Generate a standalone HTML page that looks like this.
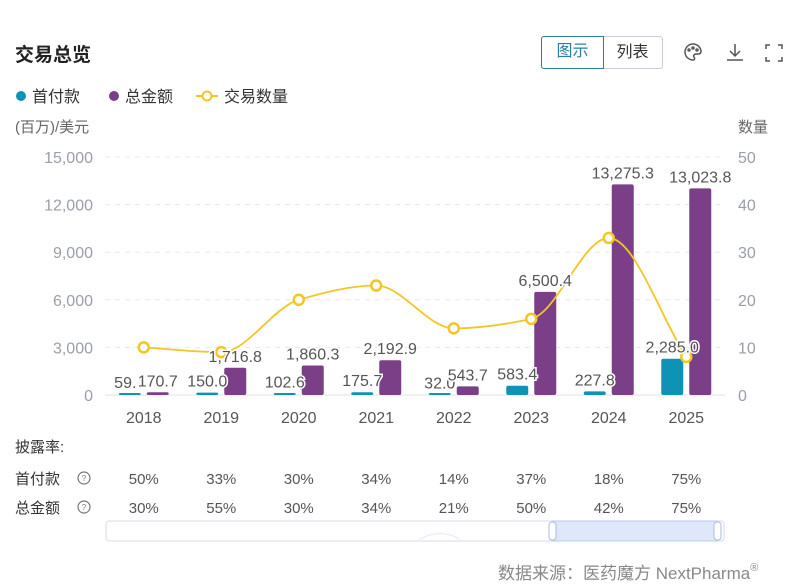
<!DOCTYPE html>
<html><head><meta charset="utf-8">
<style>
body{margin:0;width:794px;height:588px;background:#fff;font-family:"Liberation Sans","Noto Sans CJK SC",sans-serif;position:relative;overflow:hidden}
.abs{position:absolute}
</style></head><body>
<div class="abs" style="left:15px;top:40px;font-size:19px;font-weight:bold;color:#222">交易总览</div>
<div class="abs" style="left:541px;top:36px;width:122px;height:33px;border:1px solid #ccd;border-radius:3px;box-sizing:border-box;display:flex;font-size:16px">
 <div style="width:61px;border:1px solid #2a7fa0;color:#2a7fa0;text-align:center;line-height:30px;margin:-1px;border-radius:3px 0 0 3px">图示</div>
 <div style="flex:1;text-align:center;line-height:31px;color:#333">列表</div>
</div>
<svg class="abs" style="left:680px;top:40px" width="110" height="26">
 <g fill="none" stroke="#555" stroke-width="1.5"><path d="M13 4a8 8 0 1 0 0 16c2 0 2-2 1-3s0-3 2-3h3a3 3 0 0 0 2-3 8 8 0 0 0-8-7z"/><circle cx="9" cy="10" r="1"/><circle cx="13" cy="8" r="1"/><circle cx="17" cy="10" r="1"/></g>
 <g fill="none" stroke="#555" stroke-width="1.5"><path d="M55 4v12M50 11l5 5 5-5M47 20h16"/></g>
 <g fill="none" stroke="#555" stroke-width="1.5"><path d="M86 9V5h4M98 5h4v4M102 17v4h-4M90 21h-4v-4"/></g>
</svg>
<svg class="abs" style="left:0;top:0" width="794" height="588" id="chart" font-family="Liberation Sans, Noto Sans CJK SC, sans-serif">
 <g>
  <circle cx="21" cy="96" r="5" fill="#0e93b5"/>
  <text x="32" y="102" font-size="16" fill="#333">首付款</text>
  <circle cx="114" cy="96" r="5" fill="#7b3f87"/>
  <text x="125" y="102" font-size="16" fill="#333">总金额</text>
  <line x1="196" y1="96" x2="218" y2="96" stroke="#f3c623" stroke-width="2"/>
  <circle cx="207" cy="96" r="4.5" fill="#fff" stroke="#f3c623" stroke-width="2"/>
  <text x="224" y="102" font-size="16" fill="#333">交易数量</text>
 </g>
 <text x="15" y="132" font-size="15" fill="#666">(百万)/美元</text>
 <text x="738" y="132" font-size="15" fill="#666">数量</text>
 <g id="grid"></g><g id="bars"></g><g id="line"></g><g id="labels"></g>
 <text x="15" y="452" font-size="15" fill="#333">披露率:</text>
 <text x="15" y="484" font-size="15" fill="#333">首付款</text>
 <text x="15" y="513" font-size="15" fill="#333">总金额</text>
 <g fill="none" stroke="#777" stroke-width="1.2">
  <circle cx="84" cy="478" r="6"/>
  <circle cx="84" cy="507" r="6"/>
 </g>
 <text x="84" y="481" font-size="8" fill="#777" text-anchor="middle">?</text>
 <text x="84" y="510" font-size="8" fill="#777" text-anchor="middle">?</text>
 <g id="rates"></g>
 <g>
  <rect x="106" y="521" width="618" height="20" rx="3" fill="#fff" stroke="#d6dce8"/>
  <path d="M420 539 Q440 528 460 539" fill="none" stroke="#e4e8f2"/>
  <rect x="553" y="521" width="164" height="20" fill="#dfe8fb" stroke="#b8c8ef"/>
  <rect x="549" y="522" width="7" height="18" rx="3" fill="#fff" stroke="#aabbdd"/>
  <rect x="714" y="522" width="7" height="18" rx="3" fill="#fff" stroke="#aabbdd"/>
 </g>
 <text x="498" y="579" font-size="17" fill="#888">数据来源：医药魔方 NextPharma<tspan font-size="11" dy="-8">®</tspan></text>
</svg>
<script>
const years=["2018","2019","2020","2021","2022","2023","2024","2025"];
const firstPayment=[59.1,150.0,102.6,175.7,32.0,583.4,227.8,2285.0];
const totalAmount=[170.7,1716.8,1860.3,2192.9,543.7,6500.4,13275.3,13023.8];
const dealCount=[10,9,20,23,14,16,33,8];
const leftTicks=[0,3000,6000,9000,12000,15000];
const rightTicks=[0,10,20,30,40,50];
const firstRate=["50%","33%","30%","34%","14%","37%","18%","75%"];
const totalRate=["30%","55%","30%","34%","21%","50%","42%","75%"];
const NS="http://www.w3.org/2000/svg";
const X0=105,BW=77.5,Y0=395,YT=157;
const xc=i=>X0+BW*(i+0.5);
const yl=v=>Y0-(v/15000)*(Y0-YT);
const yr=v=>Y0-(v/50)*(Y0-YT);
function mk(t,a,p){const e=document.createElementNS(NS,t);for(const k in a)e.setAttribute(k,a[k]);document.getElementById(p).appendChild(e);return e;}
const fmt=v=>v.toLocaleString("en-US",{minimumFractionDigits:1,maximumFractionDigits:1});
leftTicks.forEach((t,i)=>{
 const g=mk("line",{x1:X0,x2:X0+BW*8,y1:yl(t),y2:yl(t),stroke:i?"#e6e8ee":"#dde0e6","stroke-dasharray":i?"5,5":""},"grid");
 
 
 const l=mk("text",{x:93,y:yl(t)+6,"text-anchor":"end","font-size":16,fill:"#999ea8"},"grid");l.textContent=t.toLocaleString("en-US");
 
 
});
rightTicks.forEach(t=>{
 const l=mk("text",{x:738,y:yr(t)+6,"font-size":16,fill:"#999ea8"},"grid");l.textContent=t;
 
 
});
years.forEach((y,i)=>{
 const l=mk("text",{x:xc(i),y:423,"text-anchor":"middle","font-size":16,fill:"#555"},"grid");l.textContent=y;
 
 
 const b1=mk("rect",{x:xc(i)-25,y:Math.min(yl(firstPayment[i]),Y0-2),width:22,height:Math.max(Y0-yl(firstPayment[i]),2),rx:2,fill:"#0e93b5"},"bars");
 
 
 const b2=mk("rect",{x:xc(i)+3,y:Math.min(yl(totalAmount[i]),Y0-2),width:22,height:Math.max(Y0-yl(totalAmount[i]),2),rx:2,fill:"#7b3f87"},"bars");
 
 
 const t1=mk("text",{x:xc(i)-14,y:yl(firstPayment[i])-6,"text-anchor":"middle","font-size":16,fill:"#555",stroke:"#fff","stroke-width":3,"paint-order":"stroke"},"labels");t1.textContent=fmt(firstPayment[i]);
 
 
 const t2=mk("text",{x:xc(i)+14,y:yl(totalAmount[i])-6,"text-anchor":"middle","font-size":16,fill:"#555",stroke:"#fff","stroke-width":3,"paint-order":"stroke"},"labels");t2.textContent=fmt(totalAmount[i]);
 
 
 const r1=mk("text",{x:xc(i),y:484,"text-anchor":"middle","font-size":15,fill:"#555"},"rates");r1.textContent=firstRate[i];
 
 
 const r2=mk("text",{x:xc(i),y:513,"text-anchor":"middle","font-size":15,fill:"#555"},"rates");r2.textContent=totalRate[i];
 
 
});
// monotone cubic interpolation
const pts=dealCount.map((v,i)=>[xc(i),yr(v)]);
const n=pts.length,sl=[],m=[];
for(let i=0;i<n-1;i++)sl.push((pts[i+1][1]-pts[i][1])/(pts[i+1][0]-pts[i][0]));
for(let i=0;i<n;i++){
 if(i===0)m.push(sl[0]);else if(i===n-1)m.push(sl[n-2]);
 else m.push(sl[i-1]*sl[i]<=0?0:2/(1/sl[i-1]+1/sl[i]));
}
let d="M"+pts[0];
for(let i=0;i<n-1;i++){
 const h=(pts[i+1][0]-pts[i][0])/3;
 d+=` C${pts[i][0]+h},${pts[i][1]+m[i]*h} ${pts[i+1][0]-h},${pts[i+1][1]-m[i+1]*h} ${pts[i+1][0]},${pts[i+1][1]}`;
}
const ln=mk("path",{d:d,fill:"none",stroke:"#f3c623","stroke-width":1.8},"line");


pts.forEach(p=>{
 const c=mk("circle",{cx:p[0],cy:p[1],r:5,fill:"#fff",stroke:"#f3c623","stroke-width":2.5},"line");
 
 
});
document.getElementById("chart").appendChild(document.getElementById("labels"));
</script>
</body></html>
